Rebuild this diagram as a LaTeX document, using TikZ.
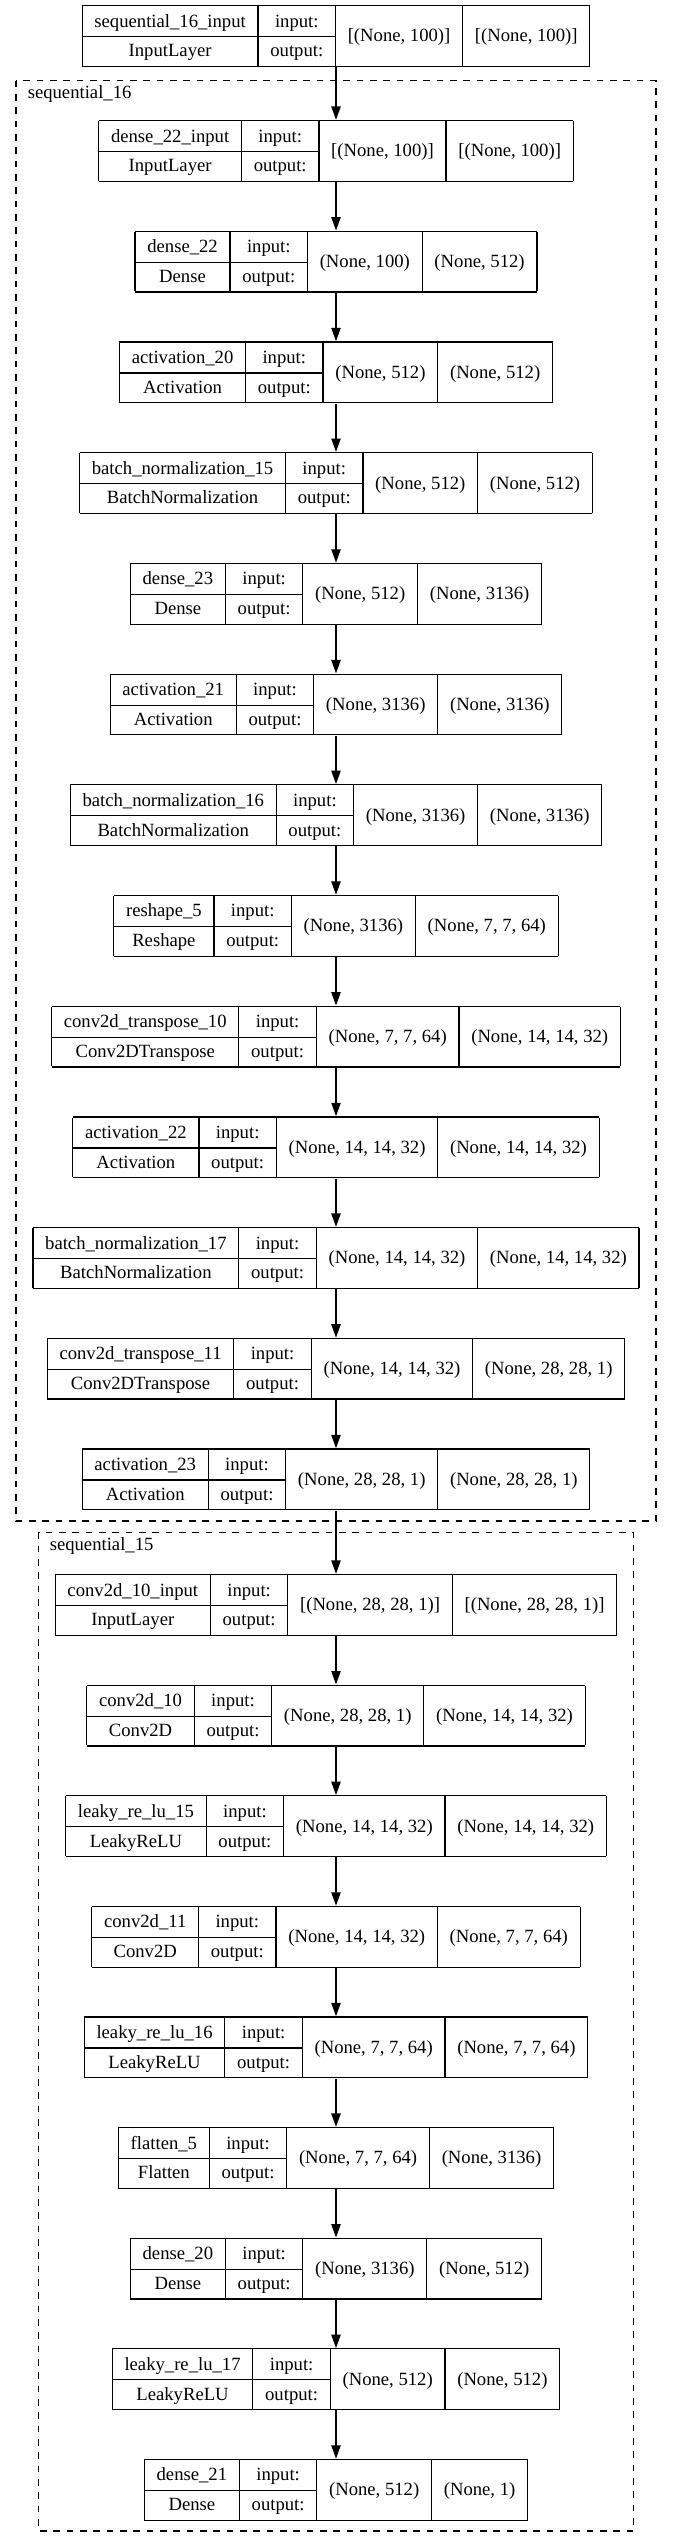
\documentclass[tikz,border=0pt]{standalone}
\usepackage{fontspec}
\setmainfont{Liberation Serif}
\usepackage{multirow}
\usetikzlibrary{arrows.meta}

\setlength{\tabcolsep}{9.2pt}
\setlength{\arrayrulewidth}{0.9pt}
\newcommand{\kerasbox}[4]{%
  \begin{tabular}{|c|c|c|c|}\hline
    #1 & input: & \multirow{2}{*}{#3} & \multirow{2}{*}{#4} \\ \cline{1-2}
    #2 & output: & & \\ \hline
  \end{tabular}}

\begin{document}
\begin{tikzpicture}[x=0.75pt, y=-0.75pt,
  layer/.style={inner sep=0pt, font=\fontsize{14}{22.3}\selectfont},
  flow/.style={line width=0.9pt, -{Triangle[length=10pt, width=7pt]}},
  cluster/.style={line width=0.9pt, dash pattern=on 5pt off 5pt},
  clustername/.style={anchor=base west, inner sep=0pt, font=\fontsize{14}{17}\selectfont}]
  \fill[white] (0,0) rectangle (672,2548);
  \useasboundingbox (0,0) rectangle (672,2548);

  % Input
  \node[layer] (in) at (336, 36) {\kerasbox{sequential\_16\_input}{InputLayer}{[(None, 100)]}{[(None, 100)]}};

  % Generator
  \draw[cluster] (16, 80.7) rectangle (656, 1521);
  \node[clustername] (gname) at (27.5, 98.5) {sequential\_16};
  \foreach \nm/\cls/\inp/\outp [count=\i] in {
      {dense\_22\_input}/{InputLayer}/{[(None, 100)]}/{[(None, 100)]},
      {dense\_22}/{Dense}/{(None, 100)}/{(None, 512)},
      {activation\_20}/{Activation}/{(None, 512)}/{(None, 512)},
      {batch\_normalization\_15}/{BatchNormalization}/{(None, 512)}/{(None, 512)},
      {dense\_23}/{Dense}/{(None, 512)}/{(None, 3136)},
      {activation\_21}/{Activation}/{(None, 3136)}/{(None, 3136)},
      {batch\_normalization\_16}/{BatchNormalization}/{(None, 3136)}/{(None, 3136)},
      {reshape\_5}/{Reshape}/{(None, 3136)}/{(None, 7, 7, 64)},
      {conv2d\_transpose\_10}/{Conv2DTranspose}/{(None, 7, 7, 64)}/{(None, 14, 14, 32)},
      {activation\_22}/{Activation}/{(None, 14, 14, 32)}/{(None, 14, 14, 32)},
      {batch\_normalization\_17}/{BatchNormalization}/{(None, 14, 14, 32)}/{(None, 14, 14, 32)},
      {conv2d\_transpose\_11}/{Conv2DTranspose}/{(None, 14, 14, 32)}/{(None, 28, 28, 1)},
      {activation\_23}/{Activation}/{(None, 28, 28, 1)}/{(None, 28, 28, 1)}} {
    \node[layer] (g\i) at (336, {151 + (\i-1)*110.7}) {\kerasbox{\nm}{\cls}{\inp}{\outp}};
  }

  % Discriminator
  \draw[cluster] (38.6, 1532.3) rectangle (633.5, 2531);
  \node[clustername] (dname) at (49.5, 1550.3) {sequential\_15};
  \foreach \nm/\cls/\inp/\outp [count=\i] in {
      {conv2d\_10\_input}/{InputLayer}/{[(None, 28, 28, 1)]}/{[(None, 28, 28, 1)]},
      {conv2d\_10}/{Conv2D}/{(None, 28, 28, 1)}/{(None, 14, 14, 32)},
      {leaky\_re\_lu\_15}/{LeakyReLU}/{(None, 14, 14, 32)}/{(None, 14, 14, 32)},
      {conv2d\_11}/{Conv2D}/{(None, 14, 14, 32)}/{(None, 7, 7, 64)},
      {leaky\_re\_lu\_16}/{LeakyReLU}/{(None, 7, 7, 64)}/{(None, 7, 7, 64)},
      {flatten\_5}/{Flatten}/{(None, 7, 7, 64)}/{(None, 3136)},
      {dense\_20}/{Dense}/{(None, 3136)}/{(None, 512)},
      {leaky\_re\_lu\_17}/{LeakyReLU}/{(None, 512)}/{(None, 512)},
      {dense\_21}/{Dense}/{(None, 512)}/{(None, 1)}} {
    \node[layer] (d\i) at (336, {1605 + (\i-1)*110.6}) {\kerasbox{\nm}{\cls}{\inp}{\outp}};
  }

  % Arrows
  \draw[flow] (in.south) -- (g1.north);
  \foreach \i [evaluate=\i as \j using int(\i+1)] in {1,...,12}
    \draw[flow] (g\i.south) -- (g\j.north);
  \draw[flow] (g13.south) -- (d1.north);
  \foreach \i [evaluate=\i as \j using int(\i+1)] in {1,...,8}
    \draw[flow] (d\i.south) -- (d\j.north);
\end{tikzpicture}
\end{document}
